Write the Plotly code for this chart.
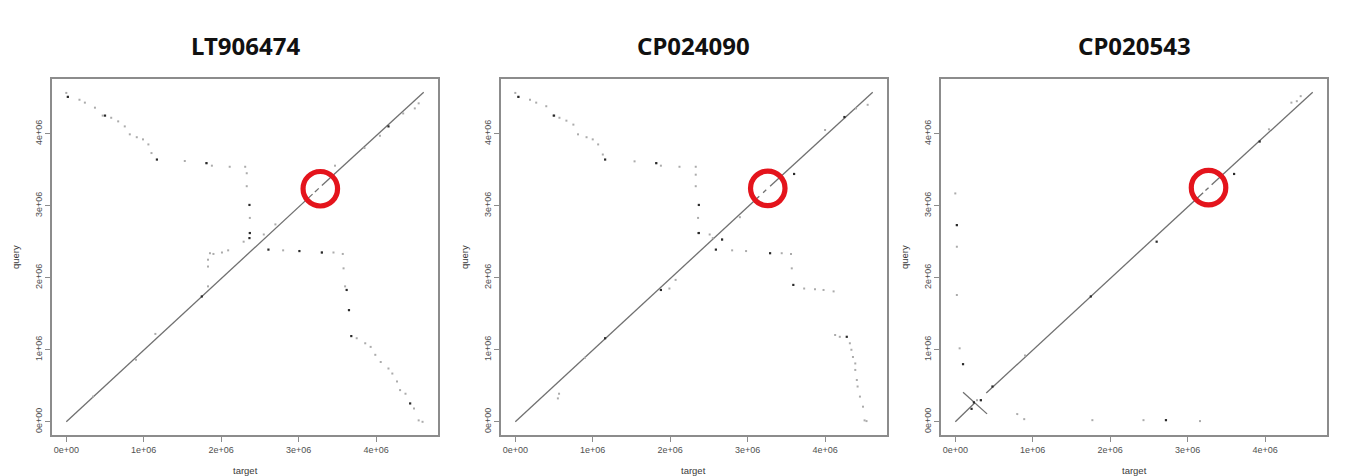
import plotly.graph_objects as go

M = 1e6
titles = ["LT906474", "CP024090", "CP020543"]
tick_vals = [0, 1, 2, 3, 4]
tick_text = ["0e+00", "1e+06", "2e+06", "3e+06", "4e+06"]

# alignment segments (Mb): x0, y0, x1, y1
p1_seg_x0 = [0.0, 3.21, 3.30]
p1_seg_y0 = [0.0, 3.19, 3.28]
p1_seg_x1 = [3.18, 3.26, 4.615]
p1_seg_y1 = [3.16, 3.24, 4.575]

p2_seg_x0 = [0.0, 3.20, 3.29]
p2_seg_y0 = [0.0, 3.18, 3.27]
p2_seg_x1 = [3.15, 3.24, 4.615]
p2_seg_y1 = [3.13, 3.22, 4.575]

p3_seg_x0 = [0.0, 0.40, 3.23, 3.31, 0.10]
p3_seg_y0 = [0.0, 0.40, 3.21, 3.29, 0.41]
p3_seg_x1 = [0.25, 3.20, 3.27, 4.615, 0.41]
p3_seg_y1 = [0.26, 3.18, 3.25, 4.575, 0.11]

# short alignments drawn as dots (Mb)
p1_dot_x = [0.0, 0.02, 0.17, 0.24, 0.37, 0.47, 0.58, 0.67, 0.755, 0.82, 0.91, 0.99, 1.06, 1.10,
            1.53, 1.81, 1.88, 2.11, 2.31, 2.33, 2.33, 2.37, 2.37, 2.29, 2.55,
            2.80, 3.30, 3.45, 3.57, 1.855, 1.90, 2.01, 2.09, 1.83, 1.83, 1.83,
            3.58, 3.60, 3.75, 3.86, 3.93, 3.99, 4.06, 4.16, 4.21, 4.27, 4.31, 4.38, 4.49, 4.55, 4.60,
            3.47, 0.345, 0.90, 1.15, 2.70, 3.85, 4.05, 4.35, 4.50, 4.55]
p1_dot_y = [4.565, 4.51, 4.47, 4.43, 4.36, 4.25, 4.22, 4.17, 4.10, 3.99, 3.95, 3.92, 3.85, 3.73,
            3.62, 3.59, 3.555, 3.54, 3.54, 3.45, 3.27, 2.83, 2.62, 2.50, 2.60,
            2.38, 2.35, 2.35, 2.33, 2.34, 2.33, 2.35, 2.38, 2.25, 2.155, 1.88,
            2.13, 1.88, 1.16, 1.09, 1.04, 0.93, 0.83, 0.74, 0.67, 0.56, 0.44, 0.39, 0.185, 0.02, 0.0,
            3.555, 0.35, 0.86, 1.22, 2.74, 3.80, 3.97, 4.28, 4.35, 4.42]
p1_dark_x = [0.02, 0.50, 1.17, 1.81, 2.365, 2.37, 2.365, 2.61, 3.01, 3.30, 3.62, 3.65, 3.68, 4.16, 4.44, 1.75]
p1_dark_y = [4.51, 4.25, 3.64, 3.59, 3.01, 2.62, 2.55, 2.39, 2.37, 2.35, 1.83, 1.55, 1.19, 4.10, 0.255, 1.74]

p2_dot_x = [0.0, 0.04, 0.19, 0.27, 0.40, 0.49, 0.57, 0.66, 0.75, 0.81, 0.92, 1.00, 1.07, 1.13,
            1.54, 1.82, 1.88, 2.12, 2.33, 2.33, 2.33, 2.36, 2.36, 2.51, 2.55, 2.67,
            2.80, 2.98, 3.44, 3.56, 3.57, 3.73, 3.87, 3.98, 4.11,
            1.99, 2.07, 4.13, 4.19, 4.32, 4.34, 4.36, 4.39, 4.39, 4.41, 4.42, 4.45, 4.49, 4.51, 4.535,
            0.565, 0.55, 0.90, 2.90, 4.00, 4.40, 4.55]
p2_dot_y = [4.565, 4.51, 4.47, 4.43, 4.38, 4.25, 4.22, 4.18, 4.125, 3.99, 3.95, 3.92, 3.85, 3.71,
            3.615, 3.59, 3.555, 3.54, 3.54, 3.43, 3.27, 2.83, 2.62, 2.60, 2.55, 2.53,
            2.38, 2.37, 2.34, 2.33, 2.13, 1.85, 1.84, 1.83, 1.81,
            1.85, 1.97, 1.205, 1.18, 1.09, 1.0, 0.90, 0.81, 0.72, 0.58, 0.49, 0.35, 0.21, 0.02, 0.01,
            0.39, 0.325, 0.89, 2.84, 4.05, 4.35, 4.40]
p2_dark_x = [0.04, 0.50, 1.16, 1.82, 2.37, 2.37, 2.59, 2.67, 3.29, 3.59, 3.60, 4.28, 1.88, 1.16, 4.25]
p2_dark_y = [4.51, 4.25, 3.64, 3.59, 3.01, 2.62, 2.39, 2.53, 2.34, 1.90, 3.44, 1.18, 1.83, 1.16, 4.23]

p3_dot_x = [0.0, 0.02, 0.02, 0.02, 0.056, 0.80, 0.89, 1.77, 2.43, 3.16, 4.34, 4.41, 4.46, 0.28, 0.33, 0.90, 4.05]
p3_dot_y = [3.17, 2.73, 2.43, 1.76, 1.02, 0.107, 0.037, 0.023, 0.023, 0.01, 4.43, 4.45, 4.52, 0.30, 0.30, 0.92, 4.06]
p3_dark_x = [0.02, 0.10, 0.24, 0.21, 0.33, 0.48, 1.75, 2.60, 2.72, 3.60, 3.93]
p3_dark_y = [2.73, 0.80, 0.27, 0.18, 0.30, 0.49, 1.74, 2.50, 0.023, 3.44, 3.89]

# highlighted regions (Mb)
circle_x = [3.28, 3.26, 3.27]
circle_y = [3.235, 3.24, 3.25]

panels = [
    (p1_seg_x0, p1_seg_y0, p1_seg_x1, p1_seg_y1, p1_dot_x, p1_dot_y, p1_dark_x, p1_dark_y),
    (p2_seg_x0, p2_seg_y0, p2_seg_x1, p2_seg_y1, p2_dot_x, p2_dot_y, p2_dark_x, p2_dark_y),
    (p3_seg_x0, p3_seg_y0, p3_seg_x1, p3_seg_y1, p3_dot_x, p3_dot_y, p3_dark_x, p3_dark_y),
]

W, H = 1346, 476
x_dom_px = [(52, 438), (501, 887), (941, 1327)]
y_dom_px = (79, 435)
x_max, y_max = 4.615, 4.575
x_range = [-0.04 * x_max * M, 1.04 * x_max * M]
y_range = [-0.04 * y_max * M, 1.04 * y_max * M]

fig = go.Figure()
layout = dict(width=W, height=H, autosize=False, margin=dict(l=0, r=0, t=0, b=0),
              paper_bgcolor="white", plot_bgcolor="white", showlegend=False)
annotations = []

for i, (sx0, sy0, sx1, sy1, dx, dy, kx, ky) in enumerate(panels):
    sfx = "" if i == 0 else str(i + 1)
    xa, ya = "x" + sfx, "y" + sfx
    lx, ly = [], []
    for a, b, c, d in zip(sx0, sy0, sx1, sy1):
        lx += [a * M, c * M, None]
        ly += [b * M, d * M, None]
    fig.add_trace(go.Scatter(x=lx, y=ly, mode="lines", xaxis=xa, yaxis=ya,
                             line=dict(color="#707070", width=1.3), hoverinfo="skip"))
    fig.add_trace(go.Scatter(x=[v * M for v in dx], y=[v * M for v in dy], mode="markers",
                             xaxis=xa, yaxis=ya,
                             marker=dict(size=2, color="#ababab", symbol="square")))
    fig.add_trace(go.Scatter(x=[v * M for v in kx], y=[v * M for v in ky], mode="markers",
                             xaxis=xa, yaxis=ya,
                             marker=dict(size=2.2, color="#2a2a2a", symbol="square")))
    fig.add_trace(go.Scatter(x=[circle_x[i] * M], y=[circle_y[i] * M], mode="markers",
                             xaxis=xa, yaxis=ya,
                             marker=dict(symbol="circle-open", size=34.5, color="#e4141c",
                                         line=dict(width=5.2, color="#e4141c"))))
    x0, x1 = x_dom_px[i]
    common = dict(showgrid=False, zeroline=False, showline=True, mirror=True,
                  linecolor="#8c8c8c", linewidth=1.6, ticks="outside", ticklen=5,
                  tickcolor="#8c8c8c", tickwidth=1,
                  tickfont=dict(family="Liberation Sans, Arial, sans-serif", size=9, color="#505050"),
                  tickvals=[v * M for v in tick_vals], ticktext=tick_text, fixedrange=True)
    layout["xaxis" + sfx] = dict(common, domain=[x0 / W, x1 / W], range=x_range, anchor=ya)
    layout["yaxis" + sfx] = dict(common, domain=[(H - y_dom_px[1]) / H, (H - y_dom_px[0]) / H],
                                 range=y_range, anchor=xa, tickangle=-90)
    cx = (x0 + x1) / 2
    annotations.append(dict(text="<b>%s</b>" % titles[i], x=cx / W, y=(H - 45) / H,
                            xref="paper", yref="paper", showarrow=False, xanchor="center",
                            yanchor="middle",
                            font=dict(family="Noto Sans, sans-serif", size=24, color="#111111")))
    annotations.append(dict(text="target", x=(cx) / W, y=(H - 470) / H, xref="paper", yref="paper",
                            showarrow=False, xanchor="center", yanchor="middle",
                            font=dict(family="Liberation Sans, Arial, sans-serif", size=9.5, color="#3a3a3a")))
    annotations.append(dict(text="query", x=(x0 - 37) / W, y=(H - 257) / H, xref="paper", yref="paper",
                            showarrow=False, xanchor="center", yanchor="middle", textangle=-90,
                            font=dict(family="Liberation Sans, Arial, sans-serif", size=9.5, color="#3a3a3a")))

layout["annotations"] = annotations
fig.update_layout(**layout)
fig.write_html("out.html")
